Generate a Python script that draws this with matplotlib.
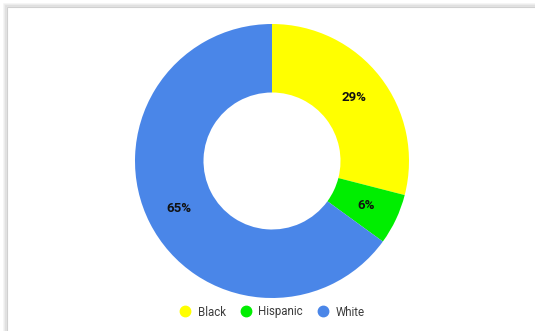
import matplotlib
matplotlib.use("Agg")
import matplotlib.pyplot as plt
from matplotlib.lines import Line2D
from matplotlib.patches import Rectangle

plt.rcParams['font.family'] = ['Roboto', 'DejaVu Sans']

categories = ["Black", "Hispanic", "White"]
values = [29, 6, 65]
colors = ["#FFFF00", "#00EE00", "#4A86E8"]

W, H = 535, 331
fig = plt.figure(figsize=(W / 100, H / 100), dpi=100)
ax = fig.add_axes([0, 0, 1, 1])
ax.set_xlim(0, W)
ax.set_ylim(0, H)
ax.set_aspect('equal')
ax.axis('off')

# card shadow
for i, (off, c) in enumerate([(3, "#f4f4f4"), (2, "#ebebeb"), (1, "#dedede")]):
    ax.add_patch(Rectangle((7 - off, -10), W + 20, H - 7 + off + 10,
                           facecolor="none", edgecolor=c, lw=1.2, zorder=0))
ax.add_patch(Rectangle((7, -10), W + 20, H - 7 + 10, facecolor="white",
                       edgecolor="#d0d0d0", lw=0.8, zorder=0.5))

R = 137
wedges, texts = ax.pie(values, colors=colors, startangle=90, counterclock=False,
                       center=(272, 170), radius=R,
                       labels=[f"{v}%" for v in values], labeldistance=0.76,
                       wedgeprops=dict(width=R * 0.5, edgecolor="none"),
                       textprops=dict(fontsize=9.5, fontweight='bold', color="#111111",
                                      ha='center', va='center'))
for t in texts:
    t.set_zorder(3)
ax.set_xlim(0, W)
ax.set_ylim(0, H)

handles = [Line2D([], [], marker='o', linestyle='none', markersize=7.5,
                  markerfacecolor=c, markeredgecolor=c) for c in colors]
leg = ax.legend(handles, categories, loc='center', bbox_to_anchor=(272 / W, 1 - 312 / H),
                ncol=3, frameon=False, fontsize=8.3, handletextpad=0.6,
                columnspacing=1.2, handlelength=1.0, labelcolor="#3c3c3c")

fig.savefig("out.png", dpi=100)
